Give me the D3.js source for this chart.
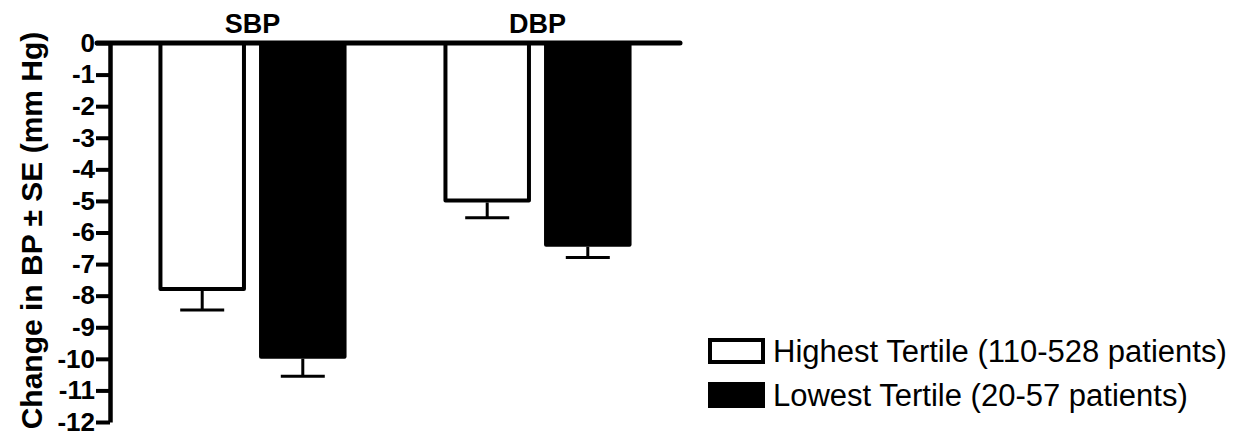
<!DOCTYPE html>
<html>
<head>
<meta charset="utf-8">
<script src="https://cdn.jsdelivr.net/npm/d3@7"></script>
<style>
body { margin: 0; background: #fff; }
text { font-family: Arial, "Liberation Sans", sans-serif; fill: #000; }
</style>
</head>
<body>
<svg width="1236" height="443"></svg>
<script>
var groups = ["SBP", "DBP"];
var series = ["Highest Tertile (110-528 patients)", "Lowest Tertile (20-57 patients)"];
var highest = [-7.85, -5.05];
var lowest = [-10.0, -6.45];
var highestSE = [0.6, 0.48];
var lowestSE = [0.55, 0.34];
var yTicks = [0, -1, -2, -3, -4, -5, -6, -7, -8, -9, -10, -11, -12];

var svg = d3.select("svg");

var data = groups.map(function(g, i) {
  return [
    {group: g, key: series[0], value: highest[i], se: highestSE[i]},
    {group: g, key: series[1], value: lowest[i], se: lowestSE[i]}
  ];
});

var x0 = d3.scaleBand().domain(groups).range([110, 680]).paddingInner(0.34).paddingOuter(0.17),
    x1 = d3.scaleBand().domain(series).range([0, x0.bandwidth()]).paddingInner(0.13),
    y = d3.scaleLinear().domain([0, -12]).range([43, 422]),
    fill = d3.scaleOrdinal().domain(series).range(["#fff", "#000"]);

var g = svg.append("g");

var grp = g.selectAll(".grp")
  .data(data)
  .enter().append("g")
    .attr("class", "grp")
    .attr("transform", function(d) { return "translate(" + x0(d[0].group) + ",0)"; });

grp.selectAll("rect")
  .data(function(d) { return d; })
  .enter().append("rect")
    .attr("x", function(d) { return x1(d.key) + 2; })
    .attr("width", x1.bandwidth() - 4)
    .attr("y", y(0))
    .attr("height", function(d) { return y(d.value) - y(0) - 2; })
    .attr("fill", function(d) { return fill(d.key); })
    .attr("stroke", "#000")
    .attr("stroke-width", 4)
    .attr("stroke-linejoin", "round");

// error bars
grp.selectAll(".err")
  .data(function(d) { return d; })
  .enter().append("path")
    .attr("class", "err")
    .attr("fill", "none")
    .attr("stroke", "#000")
    .attr("stroke-width", 3)
    .attr("d", function(d) {
      var cx = x1(d.key) + x1.bandwidth() / 2,
          y1 = y(d.value), y2 = y(d.value - d.se);
      return "M" + cx + "," + y1 + "V" + y2 + "M" + (cx - 22) + "," + y2 + "H" + (cx + 22);
    });

// group labels
g.selectAll(".glabel")
  .data(groups)
  .enter().append("text")
    .attr("x", function(d) { return x0(d) + x0.bandwidth() / 2; })
    .attr("y", 33)
    .attr("text-anchor", "middle")
    .style("font-size", "27px")
    .style("font-weight", "bold")
    .text(function(d) { return d; });

// y axis
var yAxis = g.append("g")
  .attr("transform", "translate(110,0)")
  .call(d3.axisLeft(y).tickValues(yTicks).tickSize(14).tickSizeOuter(0).tickPadding(1)
    .tickFormat(function(d) { return String(d); }));
yAxis.select(".domain").attr("stroke-width", 4.5);
yAxis.selectAll(".tick line").attr("stroke-width", 4);
yAxis.selectAll(".tick text")
  .style("font-size", "26px")
  .style("font-weight", "bold")
  .style("font-family", "Arial, 'Liberation Sans', sans-serif");

// zero line
g.append("line")
  .attr("x1", 97).attr("x2", x0.range()[1])
  .attr("y1", y(0)).attr("y2", y(0))
  .attr("stroke", "#000")
  .attr("stroke-width", 5)
  .attr("stroke-linecap", "round");

// y title
g.append("text")
  .attr("transform", "translate(42," + ((y(0) + y(-12)) / 2 - 2) + ") rotate(-90)")
  .attr("text-anchor", "middle")
  .style("font-size", "30px")
  .style("font-weight", "bold")
  .text("Change in BP \u00b1 SE (mm Hg)");

// legend
var legend = g.selectAll(".legend")
  .data(series)
  .enter().append("g")
    .attr("class", "legend")
    .attr("transform", function(d, i) { return "translate(710," + (340 + i * 44) + ")"; });

legend.append("rect")
  .attr("width", 53)
  .attr("height", 22)
  .attr("fill", function(d) { return fill(d); })
  .attr("stroke", "#000")
  .attr("stroke-width", 4);

legend.append("text")
  .attr("x", 63)
  .attr("y", 22)
  .style("font-size", "31px")
  .text(function(d) { return d; });
</script>
</body>
</html>
